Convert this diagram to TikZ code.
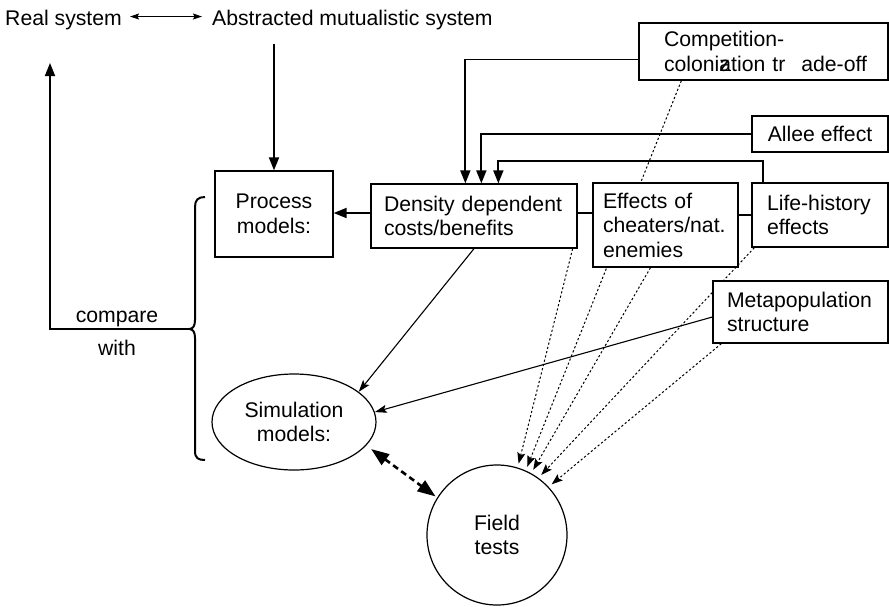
\documentclass[tikz,border=0pt]{standalone}
\usepackage{fontspec}
\setmainfont{Liberation Sans}
\usetikzlibrary{arrows.meta,shapes.geometric,backgrounds,calc}
\begin{document}
\begin{tikzpicture}[x=1pt,y=-1pt,
  every node/.style={font=\fontsize{21.2}{24.5}\selectfont, inner sep=0pt},
  boxnode/.style={draw, line width=1.3pt, fill=white},
  conn/.style={line width=1.8pt},
  headtri/.style={-{Triangle[length=13pt,width=10pt]}},
  thinarr/.style={line width=1.1pt, -{Stealth[length=12pt,width=8pt,inset=2.5pt]}},
  dotarr/.style={line width=1pt, dash pattern=on 2.2pt off 2.2pt, -{Stealth[length=11pt,width=8pt,inset=2pt]}, shorten >=4pt},
]
\useasboundingbox (0,0) rectangle (889,606);

% top texts
\node[anchor=base west] (real) at (5,25) {Real system};
\node[anchor=base west] (abs) at (212,25) {Abstracted mutualistic system};

% boxes
\node[boxnode, minimum width=118pt, minimum height=86pt, align=center] (proc) at (274,214) {Process\\models:};
\node[boxnode, minimum height=64pt, text width=180pt, inner xsep=13pt, align=left] (dens) at (474,216) {\mbox{Density dependent}\\costs/benefits};
\node[boxnode, minimum height=84pt, text width=125pt, inner xsep=10pt, align=left] (eff) at (665.5,225) {\mbox{Effects of}\\cheaters/nat.\\enemies};
\node[boxnode, minimum height=64pt, text width=106pt, inner xsep=15pt, align=left] (life) at (820,215) {\mbox{Life-history}\\effects};
\node[boxnode, minimum height=62pt, text width=147pt, inner xsep=14pt, align=left] (meta) at (800.5,312) {\mbox{Metapopulation}\\structure};
\node[boxnode, minimum height=57pt, text width=199pt, inner xsep=25pt, align=left] (comp) at (763.5,51.5) {\mbox{Competition-}\\\mbox{coloni\rlap{z}ation tr\hspace{16pt}ade-off}};
\node[boxnode, minimum width=136pt, minimum height=36pt] (allee) at (820,134) {Allee effect};

% ellipse and circle
\node[draw, ellipse, line width=1.2pt, minimum width=164pt, minimum height=96pt, align=center] (sim) at (294,422) {Simulation\\models:};
\node[draw, circle, line width=1.2pt, minimum size=140pt, align=center] (field) at (497,535) {Field\\tests};

% compare with
\node[anchor=base] (cmp) at (117,322) {compare};
\node[anchor=base] (wth) at (117,355) {with};

% brace
\draw[line width=2pt] (205,197) .. controls (198,197) and (195,200) .. (195,207) -- (195,320) .. controls (195,326) and (193,329) .. (189,329) .. controls (193,329) and (195,332) .. (195,338) -- (195,451) .. controls (195,458) and (198,460) .. (205,460);
\coordinate (bt) at (189,329);
\coordinate (cmpend) at (50,63);
\draw[conn,headtri] (bt) -| (cmpend);

% connectors
\draw[line width=1.1pt, {Stealth[length=9pt,width=6pt,inset=1.5pt]}-{Stealth[length=9pt,width=6pt,inset=1.5pt]}] ($(real.east)+(8,-3)$) -- ($(abs.west)+(-10,-3)$);
\draw[conn,headtri] ($(abs.south -| proc.north)+(0,14)$) -- (proc.north);
\draw[conn,headtri] ($(dens.west)+(0,-3)$) -- ($(dens.west -| proc.east)+(0,-3)$);
\draw[line width=1.3pt] ($(dens.east)+(0,-3)$) -- ($(dens.east -| eff.west)+(0,-3)$);
\draw[line width=1.3pt] (life.west -| eff.east) -- (life.west);
\draw[conn,headtri] ($(comp.west)+(0,8)$) -| ($(dens.north west)+(95,0)$);
\draw[conn,headtri] (allee.west) -| ($(dens.north west)+(111,0)$);
\draw[conn,headtri] ($(life.north west)+(12,0)$) -- ++(0,-21) -| ($(dens.north west)+(128,0)$);

\draw[thinarr] (dens.south) -- (sim.25);
\draw[thinarr] ($(meta.west)+(0,5)$) -- (sim.7);

\draw[line width=2.6pt, dash pattern=on 6pt off 4pt, {Triangle[length=18pt,width=13pt]}-{Triangle[length=18pt,width=13pt]}, shorten <=6pt, shorten >=2pt] (sim.-18) -- (field.148);

\begin{scope}[on background layer]
\draw[dotarr] ($(dens.south east)+(-5,0)$) -- (field.73);
\draw[dotarr] ($(comp.south west)+(43,0)$) -- (field.66);
\draw[dotarr] ($(eff.south)+(-15,0)$) -- (field.61);
\draw[dotarr] ($(life.south west)+(3,0)$) -- (field.54);
\draw[dotarr] ($(meta.south west)+(9,0)$) -- (field.43);
\end{scope}
\end{tikzpicture}
\end{document}
